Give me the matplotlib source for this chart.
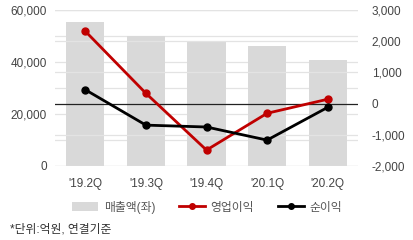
import matplotlib.pyplot as plt
from matplotlib.patches import Patch
from matplotlib.lines import Line2D

plt.rcParams['font.family'] = ['Liberation Sans', 'Noto Sans CJK KR']

quarters = ["'19.2Q", "'19.3Q", "'19.4Q", "'20.1Q", "'20.2Q"]
sales = [55400, 50000, 48000, 46200, 40800]          # 매출액 (left)
op_profit = [2320, 330, -1490, -310, 140]            # 영업이익 (right)
net_profit = [445, -690, -750, -1170, -120]          # 순이익 (right)

left_ticks = [0, 20000, 40000, 60000]
right_ticks = [-2000, -1000, 0, 1000, 2000, 3000]

fig = plt.figure(figsize=(4.14, 2.4), dpi=100)
ax = fig.add_axes([55/414, 74/240, 303/414, 156/240])
x = range(len(quarters))

# grid lines (left every 10,000, right every 1,000)
for v in range(0, 60001, 10000):
    ax.axhline(v, color='#e3e3e3', lw=0.9, zorder=0)
ax.bar(x, sales, width=0.63, color='#d9d9d9', zorder=1)
ax.set_ylim(0, 60000)
ax.set_xlim(-0.5, 4.5)
ax.set_yticks(left_ticks)
ax.set_yticklabels([f'{v:,}' for v in left_ticks])

ax2 = ax.twinx()
for v in right_ticks:
    if v != 0:
        ax2.axhline(v, color='#e3e3e3', lw=0.9, zorder=0)
ax2.axhline(0, color='#222222', lw=0.9, zorder=1)
ax2.plot(x, op_profit, color='#c00000', lw=2, marker='o', ms=5, zorder=3)
ax2.plot(x, net_profit, color='#000000', lw=2, marker='o', ms=5, zorder=3)
ax2.set_ylim(-2000, 3000)
ax2.set_yticks(right_ticks)
ax2.set_yticklabels([f'{v:,}' for v in right_ticks])

ax.set_zorder(0)
ax2.set_zorder(1)
ax2.patch.set_visible(False)

for a in (ax, ax2):
    for s in a.spines.values():
        s.set_visible(False)
    a.tick_params(length=0, labelsize=8.5, colors='#444444')
ax.tick_params(axis='x', pad=9)
ax.tick_params(axis='y', pad=6)
ax2.tick_params(axis='y', pad=10)
ax.set_xticks(list(x))
ax.set_xticklabels(quarters)

handles = [
    Patch(facecolor='#d9d9d9', edgecolor='none'),
    Line2D([], [], color='#c00000', lw=2, marker='o', ms=4),
    Line2D([], [], color='#000000', lw=2, marker='o', ms=4),
]
labels = ['매출액(좌)', '영업이익', '순이익']
fig.legend(handles, labels, loc='center', bbox_to_anchor=(0.5, 33/240), ncol=3,
           frameon=False, fontsize=8.5, labelcolor='#555555', handlelength=2.2,
           columnspacing=2.0, handletextpad=0.5)

fig.text(10/414, 10/240, '*단위:억원, 연결기준', fontsize=8.5, color='#333333',
         va='center', ha='left')

fig.savefig('out.png', dpi=100)
